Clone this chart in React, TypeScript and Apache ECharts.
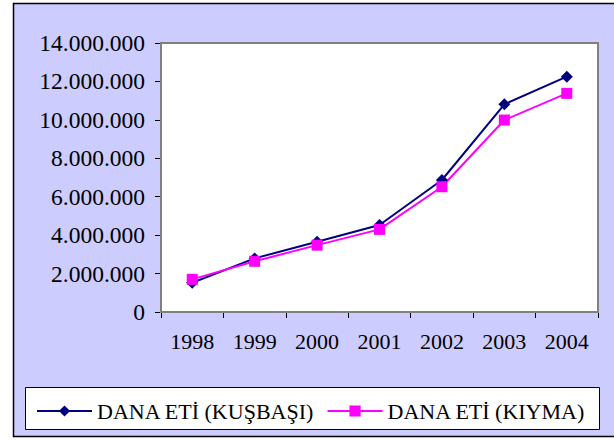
import React, { useEffect, useRef } from "react";
import * as echarts from "echarts";

const years = ["1998", "1999", "2000", "2001", "2002", "2003", "2004"];
const kusbasi = [1520000, 2790000, 3660000, 4530000, 6870000, 10810000, 12250000];
const kiyma = [1700000, 2640000, 3480000, 4300000, 6520000, 9990000, 11380000];
const seriesNames = ["DANA ETİ (KUŞBAŞI)", "DANA ETİ (KIYMA)"];

const FONT = "Liberation Serif";

function fmt(v: number): string {
  return String(Math.round(v)).replace(/\B(?=(\d{3})+(?!\d))/g, ".");
}

export default function App() {
  const ref = useRef<HTMLDivElement>(null);
  useEffect(() => {
    const chart = echarts.init(ref.current!, null, { renderer: "svg" });
    chart.setOption({
      animation: false,
      backgroundColor: "transparent",
      textStyle: { fontFamily: FONT },
      graphic: [
        {
          type: "rect",
          z: -10,
          silent: true,
          shape: { x: 13.5, y: 3.5, width: 620, height: 433 },
          style: { fill: "#CCCCFF", stroke: "#000", lineWidth: 1.5 },
        },
        {
          type: "rect",
          z: 1,
          silent: true,
          shape: { x: 25.5, y: 387.5, width: 574, height: 42 },
          style: { fill: "#fff", stroke: "#000", lineWidth: 1 },
        },
      ],
      grid: {
        left: 161,
        top: 43,
        right: 16,
        bottom: 129,
        show: true,
        backgroundColor: "#fff",
        borderColor: "#808080",
        borderWidth: 2,
        z: 2,
      },
      legend: {
        data: seriesNames,
        left: 31,
        top: 395,
        itemWidth: 55,
        itemHeight: 14,
        itemGap: 12,
        textStyle: { fontFamily: FONT, fontSize: 22, color: "#000" },
        z: 5,
      },
      xAxis: {
        type: "category",
        data: years,
        boundaryGap: true,
        axisLine: { show: true, lineStyle: { color: "#000", width: 1.5 } },
        axisTick: { show: true, length: 6, lineStyle: { color: "#000" } },
        axisLabel: { fontFamily: FONT, fontSize: 22, color: "#000", margin: 18 },
        splitLine: { show: false },
      },
      yAxis: {
        type: "value",
        min: 0,
        max: 14000000,
        interval: 2000000,
        axisLine: { show: true, lineStyle: { color: "#000", width: 1.5 } },
        axisTick: { show: true, length: 6, lineStyle: { color: "#000" } },
        axisLabel: {
          fontFamily: FONT,
          fontSize: 23.5,
          color: "#000",
          margin: 16,
          formatter: (v: number) => fmt(v),
        },
        splitLine: {
          show: true,
          lineStyle: {
            color: ["#000", "#000", "#000", "#000", "#000", "#000", "#000", "#808080"],
            width: 1,
          },
        },
      },
      series: [
        {
          name: seriesNames[0],
          type: "line",
          data: kusbasi,
          symbol: "diamond",
          symbolSize: 12,
          lineStyle: { color: "#000080", width: 2 },
          itemStyle: { color: "#000080" },
        },
        {
          name: seriesNames[1],
          type: "line",
          data: kiyma,
          symbol: "rect",
          symbolSize: 11,
          lineStyle: { color: "#FF00FF", width: 2 },
          itemStyle: { color: "#FF00FF" },
        },
      ],
    });
    return () => chart.dispose();
  }, []);
  return (
    <div
      ref={ref}
      style={{ position: "fixed", left: 0, top: 0, width: 614, height: 441, background: "#fff" }}
    />
  );
}
